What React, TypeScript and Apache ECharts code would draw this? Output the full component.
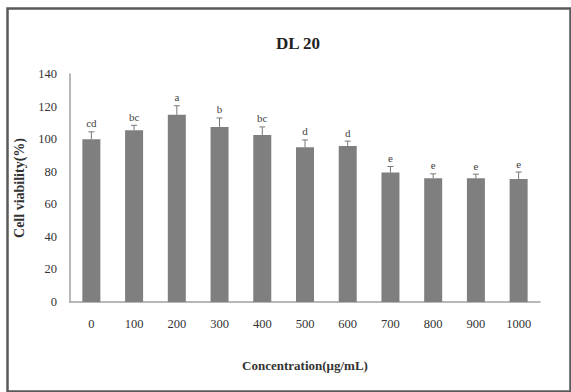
import React, { useEffect, useRef } from "react";
import * as echarts from "echarts";

const categories = ["0", "100", "200", "300", "400", "500", "600", "700", "800", "900", "1000"];
const viability = [100, 105.5, 115, 107.5, 102.5, 95, 95.8, 79.5, 76, 76, 75.5];
const errors = [4.5, 3, 5.5, 5.5, 5, 4.5, 3, 3.7, 2.7, 2.5, 4.3];
const letters = ["cd", "bc", "a", "b", "bc", "d", "d", "e", "e", "e", "e"];
const yTicks = { min: 0, max: 140, interval: 20 };
const titleText = "DL 20";
const xName = "Concentration(μg/mL)";
const yName = "Cell viability(%)";

const FONT = "'Liberation Serif', 'DejaVu Serif', serif";

export default function App() {
  const ref = useRef<HTMLDivElement>(null);
  useEffect(() => {
    if (!ref.current) return;
    const chart = echarts.init(ref.current, undefined, { renderer: "svg" });
    chart.setOption({
      animation: false,
      backgroundColor: "#ffffff",
      title: {
        text: titleText,
        left: 293,
        top: 30,
        textAlign: "center",
        textStyle: { fontFamily: FONT, fontSize: 17, fontWeight: "bold", color: "#222" },
      },
      graphic: [
        {
          type: "rect",
          left: 5,
          top: 6,
          shape: { x: 0, y: 0, width: 563, height: 383 },
          style: { fill: "none", stroke: "#5a5a5a", lineWidth: 2.5 },
          silent: true,
        },
      ],
      grid: { left: 70, right: 31, top: 74, bottom: 90, containLabel: false },
      xAxis: {
        type: "category",
        data: categories,
        name: xName,
        nameLocation: "middle",
        nameGap: 57,
        nameTextStyle: { fontFamily: FONT, fontSize: 13, fontWeight: "bold", color: "#333" },
        axisLine: { lineStyle: { color: "#a0a0a0", width: 1.5 } },
        axisTick: { show: false },
        axisLabel: { fontFamily: FONT, fontSize: 12.5, color: "#333", margin: 15 },
      },
      yAxis: {
        type: "value",
        min: yTicks.min,
        max: yTicks.max,
        interval: yTicks.interval,
        name: yName,
        nameLocation: "middle",
        nameGap: 44,
        nameRotate: 90,
        nameTextStyle: { fontFamily: FONT, fontSize: 14, fontWeight: "bold", color: "#333" },
        axisLine: { show: true, lineStyle: { color: "#a0a0a0", width: 1.5 } },
        axisTick: { show: false },
        splitLine: { show: false },
        axisLabel: { fontFamily: FONT, fontSize: 12.5, color: "#333", margin: 13 },
      },
      series: [
        {
          type: "bar",
          data: viability,
          barWidth: 18,
          itemStyle: { color: "#7f7f7f" },
        },
        {
          type: "custom",
          data: viability.map((v, i) => [i, v, errors[i]]),
          z: 10,
          renderItem: (params: any, api: any) => {
            const x = api.value(0);
            const v = api.value(1);
            const e = api.value(2);
            const base = api.coord([x, v]);
            const top = api.coord([x, v + e]);
            return {
              type: "group",
              children: [
                {
                  type: "line",
                  shape: { x1: base[0], y1: base[1], x2: top[0], y2: top[1] },
                  style: { stroke: "#777", lineWidth: 1 },
                },
                {
                  type: "line",
                  shape: { x1: top[0] - 3, y1: top[1], x2: top[0] + 3, y2: top[1] },
                  style: { stroke: "#777", lineWidth: 1 },
                },
                {
                  type: "text",
                  x: top[0],
                  y: top[1] - 3,
                  style: {
                    text: letters[params.dataIndex],
                    textAlign: "center",
                    textVerticalAlign: "bottom",
                    verticalAlign: "bottom",
                    fontSize: 11,
                    fontFamily: FONT,
                    fill: "#444",
                  },
                },
              ],
            };
          },
        },
      ],
    });
    return () => chart.dispose();
  }, []);
  return (
    <div
      ref={ref}
      style={{ position: "fixed", left: 0, top: 0, width: 571, height: 392 }}
    />
  );
}
